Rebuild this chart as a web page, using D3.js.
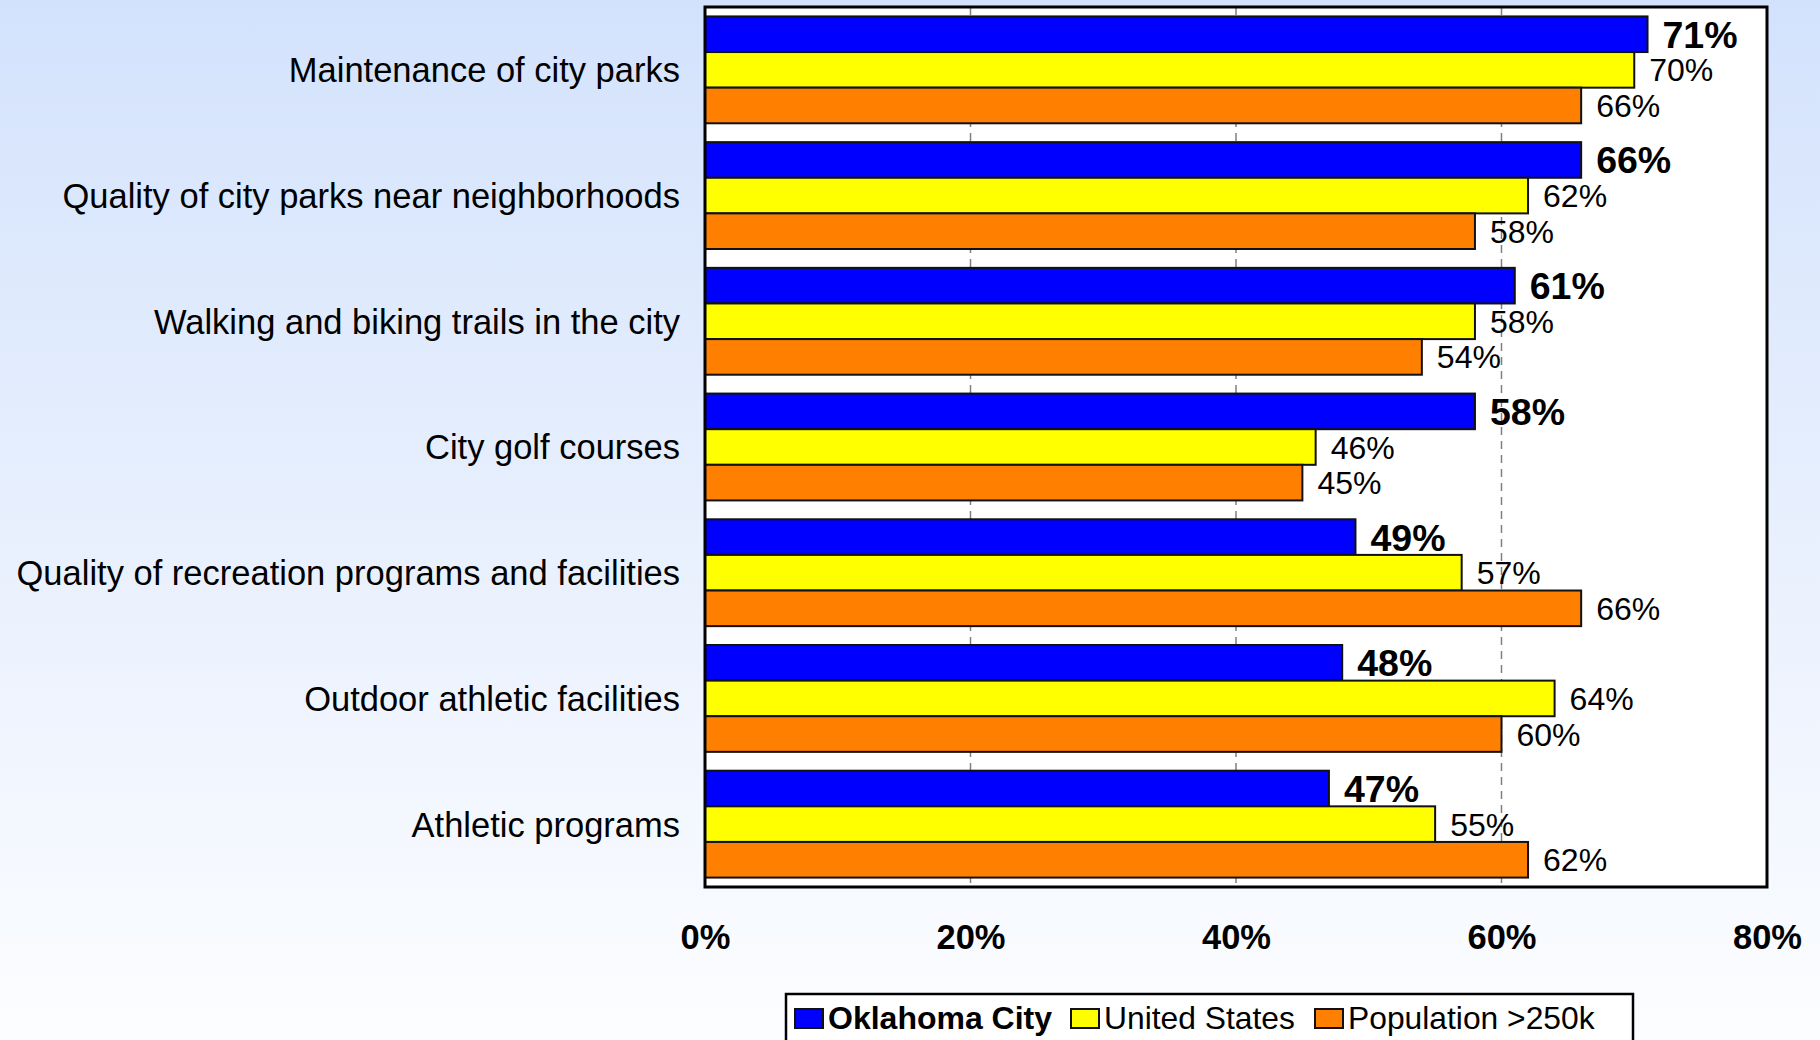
<!DOCTYPE html>
<html><head><meta charset="utf-8">
<script src="https://cdn.jsdelivr.net/npm/d3@7"></script>
<style>html,body{margin:0;padding:0;overflow:hidden;}svg{display:block;}</style>
</head><body>
<svg id="chart" width="1820" height="1040"></svg>
<script>
const categories = ["Maintenance of city parks","Quality of city parks near neighborhoods","Walking and biking trails in the city","City golf courses","Quality of recreation programs and facilities","Outdoor athletic facilities","Athletic programs"];
const seriesNames = ["Oklahoma City","United States","Population >250k"];
const okc = [71,66,61,58,49,48,47];
const us = [70,62,58,46,57,64,55];
const pop = [66,58,54,45,66,60,62];
const xTicks = [0,20,40,60,80];
const colors = ["#0000ff","#ffff00","#ff8000"];

const series = [okc, us, pop];
const svg = d3.select("#chart");
const W = 1820, H = 1040;
const defs = svg.append("defs");
const grad = defs.append("linearGradient").attr("id","bg").attr("x1",0).attr("y1",0).attr("x2",0).attr("y2",1);
grad.append("stop").attr("offset","0%").attr("stop-color","#d3e2fc");
grad.append("stop").attr("offset","100%").attr("stop-color","#fcfdff");
svg.append("rect").attr("width",W).attr("height",H).attr("fill","url(#bg)");

const L = 705, R = 1767, T = 7, B = 887;
const x = d3.scaleLinear().domain([0,80]).range([L,R]);
const y = d3.scaleBand().domain(categories).range([T,B]).paddingInner(0.15).paddingOuter(0.075);
const ySub = d3.scaleBand().domain([0,1,2]).range([0,y.bandwidth()]);

svg.append("rect").attr("x",L).attr("y",T).attr("width",R-L).attr("height",B-T).attr("fill","#ffffff");

// gridlines
svg.append("g").selectAll("line").data(xTicks.filter(t=>t>0&&t<80)).join("line")
  .attr("x1",d=>x(d)).attr("x2",d=>x(d)).attr("y1",T).attr("y2",B)
  .attr("stroke","#808080").attr("stroke-width",1.5).attr("stroke-dasharray","8,6");

const font = "'Liberation Sans', Arial, Helvetica, sans-serif";

// bars
const g = svg.append("g");
categories.forEach((c,i)=>{
  series.forEach((s,j)=>{
    g.append("rect").attr("x",x(0)).attr("y",y(c)+ySub(j))
      .attr("width",x(s[i])-x(0)).attr("height",ySub.bandwidth())
      .attr("fill",colors[j]).attr("stroke","#111").attr("stroke-width",2);
  });
});
categories.forEach((c,i)=>{
  series.forEach((s,j)=>{
    g.append("text").attr("x",x(s[i])+15).attr("y",y(c)+ySub(j)+ySub.bandwidth()/2)
      .attr("dy","0.36em").attr("font-family",font)
      .attr("font-size", j===0?37.5:32).attr("font-weight", j===0?"bold":"normal")
      .attr("fill","#000").text(s[i]+"%");
  });
});

// frame
svg.append("rect").attr("x",L).attr("y",T).attr("width",R-L).attr("height",B-T)
  .attr("fill","none").attr("stroke","#000").attr("stroke-width",3);

// category labels
svg.append("g").selectAll("text").data(categories).join("text")
  .attr("x",L-25).attr("y",d=>y(d)+y.bandwidth()/2).attr("dy","0.36em")
  .attr("text-anchor","end").attr("font-family",font).attr("font-size",34.5)
  .attr("fill","#000").text(d=>d);

// x axis
const xAxis = svg.append("g").attr("transform",`translate(0,${B})`)
  .call(d3.axisBottom(x).tickValues(xTicks).tickFormat(d=>d+"%").tickSize(0).tickPadding(38));
xAxis.select(".domain").remove();
xAxis.selectAll("text").attr("font-family",font).attr("font-size",34.5).attr("font-weight","bold").attr("fill","#000");

// legend
const lg = svg.append("g");
lg.append("rect").attr("x",786).attr("y",994).attr("width",847).attr("height",70)
  .attr("fill","#fff").attr("stroke","#000").attr("stroke-width",2.5);
const legX = [795, 1071, 1315];
seriesNames.forEach((n,j)=>{
  lg.append("rect").attr("x",legX[j]).attr("y",1009).attr("width",28).attr("height",19)
    .attr("fill",colors[j]).attr("stroke","#111").attr("stroke-width",2);
  lg.append("text").attr("x",legX[j]+33).attr("y",1029).attr("font-family",font)
    .attr("font-size", j===0?32:31.8).attr("font-weight", j===0?"bold":"normal").attr("fill","#000").text(n);
});
</script>
</body></html>
